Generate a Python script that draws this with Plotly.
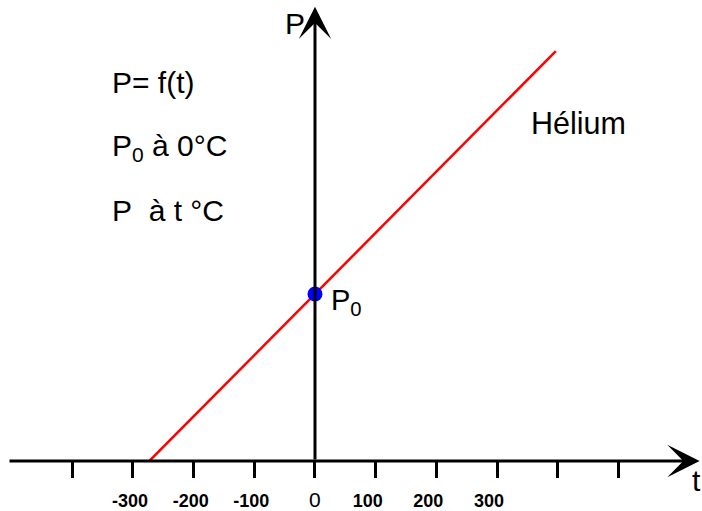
import plotly.graph_objects as go

# ---- data ----
t_line = [-273, 397]          # temperature t (°C)
p_line = [0.0, 2.454]         # pressure P (in units of P0)
t_point = [0]
p_point = [1.0]
tick_marks = [-400, -300, -200, -100, 0, 100, 200, 300, 400, 500]
label_vals = [-300, -200, -100, 0, 100, 200, 300]
label_text = ["-300", "-200", "-100", "0", "100", "200", "300"]
t_axis = [-506, 634]          # extent of horizontal (t) axis arrow
p_axis = [0.0, 2.72]          # extent of vertical (P) axis arrow

W, H = 702, 511
ML, MR, MT, MB = 0, 0, 0, 46
PW, PH = W - ML - MR, H - MT - MB
FONT = "Arial, Liberation Sans, sans-serif"
NB = "\u00a0"

def px(xp):
    return (xp - ML) / PW

def py(yp):
    return (H - MB - yp) / PH

fig = go.Figure()
fig.add_trace(go.Scatter(x=t_line, y=p_line, mode="lines",
                         line=dict(color="#ff0000", width=2.5),
                         cliponaxis=False, hoverinfo="skip", showlegend=False))
fig.add_trace(go.Scatter(x=t_point, y=p_point, mode="markers",
                         marker=dict(color="#0000ff", size=15, line=dict(width=0)),
                         cliponaxis=False, hoverinfo="skip", showlegend=False))

ticktext = []
for v, lab in zip(label_vals, label_text):
    if v == 0:
        ticktext.append("<span style='font-size:21px'>" + NB + lab + "</span>")
    elif v > 0:
        ticktext.append("<b>" + lab + NB + NB + "</b>")
    else:
        ticktext.append("<b>" + lab + "</b>")

axis_arrow = dict(xref="x", yref="y", axref="x", ayref="y", text="",
                  showarrow=True, arrowhead=3, arrowsize=1.8, arrowwidth=3,
                  arrowcolor="black", standoff=0)
annotations = [
    dict(axis_arrow, x=t_axis[1], y=0, ax=t_axis[0], ay=0),
    dict(axis_arrow, x=0, y=p_axis[1], ax=0, ay=p_axis[0]),
]

def txt(text, xp, yp, size=30, xanchor="left"):
    annotations.append(dict(text=text, x=px(xp), y=py(yp), xref="paper", yref="paper",
                            xanchor=xanchor, yanchor="middle", showarrow=False,
                            font=dict(family=FONT, size=size, color="black")))

txt("P= f(t)", 110, 83)
txt("P<sub>0</sub> à 0°C", 110, 149)
txt("P" + NB + NB + "à t °C", 110, 212)
txt("Hélium", 529, 124, size=30.5)
txt("P", 283, 24, size=30)
txt("t", 696, 485, size=30, xanchor="center")
txt("P<sub>0</sub>", 329, 305, size=29)

fig.update_layout(
    width=W, height=H,
    margin=dict(l=ML, r=MR, t=MT, b=MB, pad=0),
    paper_bgcolor="white", plot_bgcolor="white",
    showlegend=False,
    xaxis=dict(range=[-519.2, 637.9], tickmode="array", tickvals=label_vals, ticktext=ticktext,
               ticks="outside", ticklen=16, tickwidth=3, tickcolor="black",
               ticklabelstandoff=7, ticklabelshift=-3,
               minor=dict(tickmode="array", tickvals=tick_marks, ticks="outside",
                          ticklen=16, tickwidth=3, tickcolor="black", showgrid=False),
               showgrid=False, zeroline=False, showline=False,
               tickfont=dict(family=FONT, size=18, color="black"), fixedrange=True),
    yaxis=dict(range=[0, 2.76], visible=False, fixedrange=True),
    annotations=annotations,
)

fig.write_html("out.html", config={"displayModeBar": False, "staticPlot": True},
               post_script="document.body.style.margin='0';")
